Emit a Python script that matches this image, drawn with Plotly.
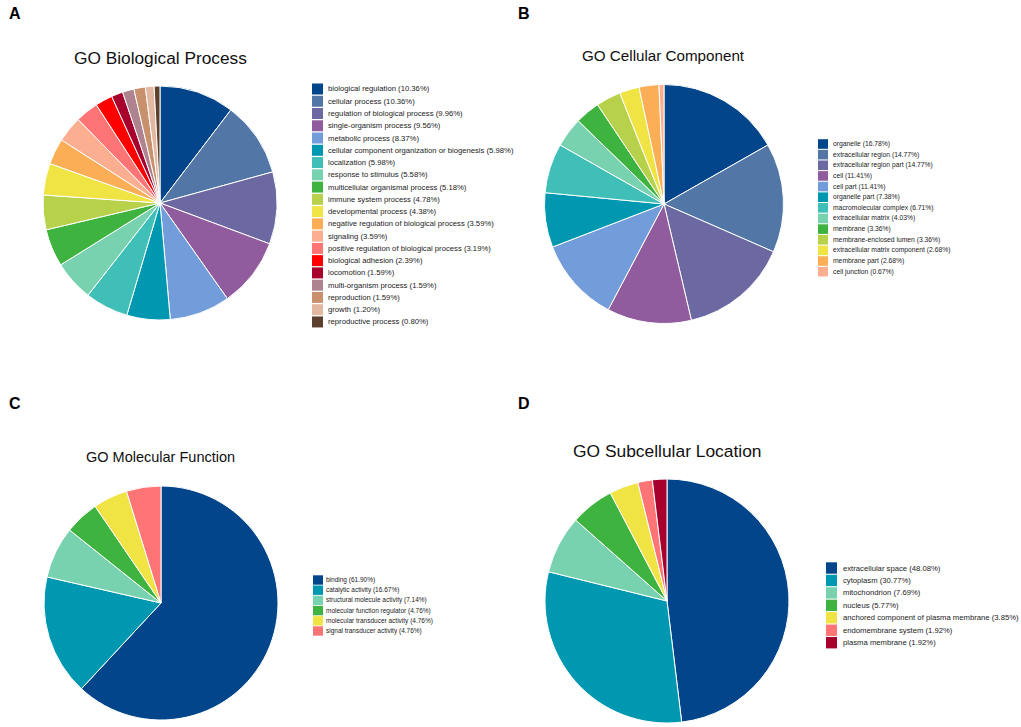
import plotly.graph_objects as go

W, H = 1021, 727

# ---------------- data ----------------
bp_names = ["biological regulation", "cellular process", "regulation of biological process",
            "single-organism process", "metabolic process",
            "cellular component organization or biogenesis", "localization",
            "response to stimulus", "multicellular organismal process", "immune system process",
            "developmental process", "negative regulation of biological process", "signaling",
            "positive regulation of biological process", "biological adhesion", "locomotion",
            "multi-organism process", "reproduction", "growth", "reproductive process"]
bp_values = [10.36, 10.36, 9.96, 9.56, 8.37, 5.98, 5.98, 5.58, 5.18, 4.78,
             4.38, 3.59, 3.59, 3.19, 2.39, 1.59, 1.59, 1.59, 1.20, 0.80]

cc_names = ["organelle", "extracellular region", "extracellular region part", "cell", "cell part",
            "organelle part", "macromolecular complex", "extracellular matrix", "membrane",
            "membrane-enclosed lumen", "extracellular matrix component", "membrane part",
            "cell junction"]
cc_values = [16.78, 14.77, 14.77, 11.41, 11.41, 7.38, 6.71, 4.03, 3.36, 3.36, 2.68, 2.68, 0.67]

mf_names = ["binding", "catalytic activity", "structural molecule activity",
            "molecular function regulator", "molecular transducer activity",
            "signal transducer activity"]
mf_values = [61.90, 16.67, 7.14, 4.76, 4.76, 4.76]

sl_names = ["extracellular space", "cytoplasm", "mitochondrion", "nucleus",
            "anchored component of plasma membrane", "endomembrane system", "plasma membrane"]
sl_values = [48.08, 30.77, 7.69, 5.77, 3.85, 1.92, 1.92]

# ---------------- styles ----------------
palette = ["#03458A", "#5277A7", "#6B68A2", "#915C9D", "#739CDB", "#0098B1", "#40BFB8",
           "#78D2B0", "#3EB340", "#B8D14B", "#EFE444", "#FBAE55", "#FCAE91", "#FF7575",
           "#FF0000", "#A8002D", "#AE838F", "#C9906E", "#E3B8A0", "#5D3F2E"]
bp_colors = palette[:20]
cc_colors = palette[:12] + ["#FCAE91"]
mf_colors = ["#03458A", "#0098B1", "#78D2B0", "#3EB340", "#EFE444", "#FF7575"]
sl_colors = ["#03458A", "#0098B1", "#78D2B0", "#3EB340", "#EFE444", "#FF7575", "#A8002D"]

FONT = "Liberation Sans, Arial, sans-serif"

panels = [
    dict(names=bp_names, values=bp_values, colors=bp_colors, title="GO Biological Process",
         txy=(160, 58), tsize=17.3, c=(160, 203), r=117,
         leg=dict(x0=312, x1=323, y0=89, dy=12.26, sh=11, tx=326, fs=7.7)),
    dict(names=cc_names, values=cc_values, colors=cc_colors, title="GO Cellular Component",
         txy=(663, 56), tsize=15.2, c=(664, 204), r=119.5,
         leg=dict(x0=818, x1=828, y0=144, dy=10.64, sh=9.6, tx=831, fs=6.75)),
    dict(names=mf_names, values=mf_values, colors=mf_colors, title="GO Molecular Function",
         txy=(160, 457), tsize=14.5, c=(161, 603), r=117,
         leg=dict(x0=313, x1=323, y0=580, dy=10.2, sh=9.4, tx=324, fs=6.5)),
    dict(names=sl_names, values=sl_values, colors=sl_colors, title="GO Subcellular Location",
         txy=(667, 451), tsize=17.4, c=(667, 601), r=122,
         leg=dict(x0=826, x1=837, y0=568, dy=12.45, sh=11.4, tx=841, fs=7.7)),
]

fig = go.Figure()
shapes = []
annotations = []

for p in panels:
    cx, cy = p["c"]
    r = p["r"]
    fig.add_trace(go.Pie(
        labels=p["names"], values=p["values"], sort=False, direction="clockwise",
        rotation=0, textinfo="none", hoverinfo="label+percent",
        marker=dict(colors=p["colors"], line=dict(color="white", width=1)),
        domain=dict(x=[(cx - r) / W, (cx + r) / W], y=[1 - (cy + r) / H, 1 - (cy - r) / H]),
        showlegend=False,
    ))
    tx, ty = p["txy"]
    annotations.append(dict(text=p["title"], x=tx / W, y=1 - ty / H, xref="paper", yref="paper",
                            xanchor="center", yanchor="middle", showarrow=False,
                            font=dict(family=FONT, size=p["tsize"], color="#111111")))
    lg = p["leg"]
    for i, (n, v, col) in enumerate(zip(p["names"], p["values"], p["colors"])):
        yc = lg["y0"] + i * lg["dy"]
        shapes.append(dict(type="rect", xref="paper", yref="paper",
                           x0=lg["x0"] / W, x1=lg["x1"] / W,
                           y0=1 - (yc - lg["sh"] / 2) / H, y1=1 - (yc + lg["sh"] / 2) / H,
                           fillcolor=col, line=dict(width=0)))
        annotations.append(dict(text=f"{n} ({v:.2f}%)", x=lg["tx"] / W, y=1 - yc / H,
                                xref="paper", yref="paper", xanchor="left", yanchor="middle",
                                showarrow=False,
                                font=dict(family=FONT, size=lg["fs"], color="#222222")))

for letter, (lx, ly) in zip("ABCD", [(15, 14), (524, 14), (15, 403), (524, 403)]):
    annotations.append(dict(text=f"<b>{letter}</b>", x=lx / W, y=1 - ly / H, xref="paper",
                            yref="paper", xanchor="center", yanchor="middle", showarrow=False,
                            font=dict(family=FONT, size=16, color="black")))

fig.update_layout(width=W, height=H, margin=dict(l=0, r=0, t=0, b=0),
                  paper_bgcolor="white", plot_bgcolor="white",
                  shapes=shapes, annotations=annotations, showlegend=False)

fig.write_html("out.html", config={"displayModeBar": False},
               post_script="document.body.style.margin='0';document.body.style.overflow='hidden';")
